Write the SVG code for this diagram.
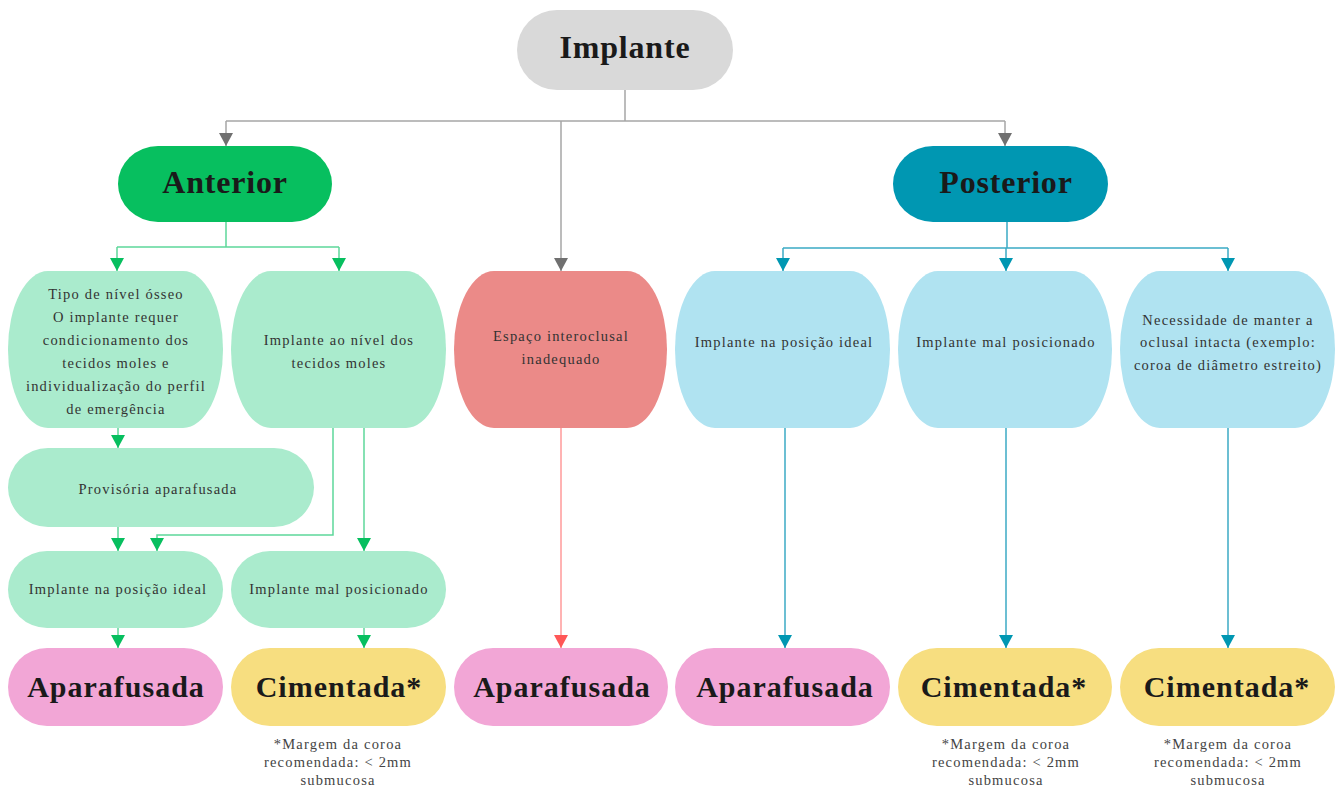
<svg xmlns="http://www.w3.org/2000/svg" width="1344" height="790" viewBox="0 0 1344 790">
<defs>
<marker id="ag" markerUnits="userSpaceOnUse" markerWidth="13" markerHeight="15" refX="13" refY="7" orient="auto"><path d="M0,0 L13,7 L0,14 z" fill="#707070"/></marker>
<marker id="agr" markerUnits="userSpaceOnUse" markerWidth="13" markerHeight="15" refX="13" refY="7" orient="auto"><path d="M0,0 L13,7 L0,14 z" fill="#07BF5F"/></marker>
<marker id="ab" markerUnits="userSpaceOnUse" markerWidth="13" markerHeight="15" refX="13" refY="7" orient="auto"><path d="M0,0 L13,7 L0,14 z" fill="#0097B2"/></marker>
<marker id="ar" markerUnits="userSpaceOnUse" markerWidth="13" markerHeight="15" refX="13" refY="7" orient="auto"><path d="M0,0 L13,7 L0,14 z" fill="#FF5757"/></marker>
</defs>
<style>
.big{font-family:"Liberation Serif",serif;font-weight:bold;font-size:32px;fill:#1a1a1a;text-anchor:middle;letter-spacing:0.8px}
.res{font-family:"Liberation Serif",serif;font-weight:bold;font-size:30px;fill:#1a1a1a;text-anchor:middle;letter-spacing:1px}
.sm{font-family:"Liberation Serif",serif;font-size:14.5px;fill:#333;text-anchor:middle;letter-spacing:1.2px}
.note{font-family:"Liberation Serif",serif;font-size:14.5px;fill:#444;text-anchor:middle;letter-spacing:1.2px}
.lg{fill:#AAEBCD}.lb{fill:#B0E3F1}.pk{fill:#F2A6D6}.yl{fill:#F7DE80}
.cg{fill:none;stroke:#A6A6A6;stroke-width:1.5}
.cgr{fill:none;stroke:#5ED79A;stroke-width:1.5}
.cb{fill:none;stroke:#3BAAC5;stroke-width:1.5}
.cr{fill:none;stroke:#FF9A9A;stroke-width:1.5}
</style>
<rect width="1344" height="790" fill="#fff"/>
<g id="connectors">
<path class="cg" d="M625,90 V121 M226,121 H1005"/>
<path class="cg" d="M226,121 V146" marker-end="url(#ag)"/>
<path class="cg" d="M561,121 V271" marker-end="url(#ag)"/>
<path class="cg" d="M1005,121 V146" marker-end="url(#ag)"/>
<path class="cgr" d="M226,222 V247 M117,247 H339"/>
<path class="cgr" d="M117,247 V271" marker-end="url(#agr)"/>
<path class="cgr" d="M339,247 V271" marker-end="url(#agr)"/>
<path class="cgr" d="M118,428 V448" marker-end="url(#agr)"/>
<path class="cgr" d="M118,527 V551" marker-end="url(#agr)"/>
<path class="cgr" d="M333,428 V535 H157 V551" marker-end="url(#agr)"/>
<path class="cgr" d="M364,428 V551" marker-end="url(#agr)"/>
<path class="cgr" d="M118,628 V648" marker-end="url(#agr)"/>
<path class="cgr" d="M364,628 V648" marker-end="url(#agr)"/>
<path class="cr" d="M561,428 V648" marker-end="url(#ar)"/>
<path class="cb" d="M1007,222 V248 M783,248 H1228"/>
<path class="cb" d="M783,248 V271" marker-end="url(#ab)"/>
<path class="cb" d="M1006,248 V271" marker-end="url(#ab)"/>
<path class="cb" d="M1228,248 V271" marker-end="url(#ab)"/>
<path class="cb" d="M785,428 V648" marker-end="url(#ab)"/>
<path class="cb" d="M1006,428 V648" marker-end="url(#ab)"/>
<path class="cb" d="M1228,428 V648" marker-end="url(#ab)"/>
</g>
<g id="implante"><rect x="517" y="10" width="216" height="80" rx="40" ry="40" fill="#D9D9D9"/><text class="big" x="625" y="58">Implante</text></g>
<g id="anterior"><rect x="118" y="146" width="214" height="76" rx="40" ry="38" fill="#07BF5F"/><text class="big" x="225" y="193">Anterior</text></g>
<g id="posterior"><rect x="893" y="146" width="215" height="76" rx="40" ry="38" fill="#0097B2"/><text class="big" x="1006" y="193">Posterior</text></g>
<g id="tipo"><rect class="lg" x="8" y="271" width="215" height="157" rx="40" ry="78"/>
<text class="sm" x="116"><tspan x="116" y="299">Tipo de nível ósseo</tspan><tspan x="116" y="322">O implante requer</tspan><tspan x="116" y="345">condicionamento dos</tspan><tspan x="116" y="368">tecidos moles e</tspan><tspan x="116" y="391">individualização do perfil</tspan><tspan x="116" y="414">de emergência</tspan></text></g>
<g id="nivel"><rect class="lg" x="231" y="271" width="215" height="157" rx="40" ry="78"/>
<text class="sm"><tspan x="339" y="345">Implante ao nível dos</tspan><tspan x="339" y="368">tecidos moles</tspan></text></g>
<g id="espaco"><rect x="454" y="271" width="213" height="157" rx="40" ry="78" fill="#EB8A88"/>
<text class="sm"><tspan x="561" y="341">Espaço interoclusal</tspan><tspan x="561" y="364">inadequado</tspan></text></g>
<g id="p-ideal"><rect class="lb" x="675" y="271" width="215" height="157" rx="40" ry="78"/>
<text class="sm" x="784" y="347">Implante na posição ideal</text></g>
<g id="p-mal"><rect class="lb" x="898" y="271" width="214" height="157" rx="40" ry="78"/>
<text class="sm" x="1006" y="347">Implante mal posicionado</text></g>
<g id="p-oclusal"><rect class="lb" x="1120" y="271" width="215" height="157" rx="40" ry="78"/>
<text class="sm"><tspan x="1228" y="325">Necessidade de manter a</tspan><tspan x="1228" y="347">oclusal intacta (exemplo:</tspan><tspan x="1228" y="370">coroa de diâmetro estreito)</tspan></text></g>
<g id="provisoria"><rect class="lg" x="8" y="448" width="306" height="79" rx="40" ry="40"/>
<text class="sm" x="158" y="494">Provisória aparafusada</text></g>
<g id="a-ideal"><rect class="lg" x="8" y="551" width="215" height="77" rx="39" ry="39"/>
<text class="sm" x="118" y="594">Implante na posição ideal</text></g>
<g id="a-mal"><rect class="lg" x="231" y="551" width="215" height="77" rx="39" ry="39"/>
<text class="sm" x="339" y="594">Implante mal posicionado</text></g>
<g id="r1"><rect class="pk" x="8" y="648" width="215" height="78" rx="39" ry="39"/><text class="res" x="116" y="697">Aparafusada</text></g>
<g id="r2"><rect class="yl" x="231" y="648" width="215" height="78" rx="39" ry="39"/><text class="res" x="339" y="697">Cimentada*</text></g>
<g id="r3"><rect class="pk" x="454" y="648" width="214" height="78" rx="39" ry="39"/><text class="res" x="562" y="697">Aparafusada</text></g>
<g id="r4"><rect class="pk" x="675" y="648" width="215" height="78" rx="39" ry="39"/><text class="res" x="785" y="697">Aparafusada</text></g>
<g id="r5"><rect class="yl" x="898" y="648" width="214" height="78" rx="39" ry="39"/><text class="res" x="1004" y="697">Cimentada*</text></g>
<g id="r6"><rect class="yl" x="1120" y="648" width="215" height="78" rx="39" ry="39"/><text class="res" x="1227" y="697">Cimentada*</text></g>
<g id="notes">
<text class="note"><tspan x="338" y="749">*Margem da coroa</tspan><tspan x="338" y="767">recomendada: &lt; 2mm</tspan><tspan x="338" y="785">submucosa</tspan></text>
<text class="note"><tspan x="1006" y="749">*Margem da coroa</tspan><tspan x="1006" y="767">recomendada: &lt; 2mm</tspan><tspan x="1006" y="785">submucosa</tspan></text>
<text class="note"><tspan x="1228" y="749">*Margem da coroa</tspan><tspan x="1228" y="767">recomendada: &lt; 2mm</tspan><tspan x="1228" y="785">submucosa</tspan></text>
</g>
</svg>
